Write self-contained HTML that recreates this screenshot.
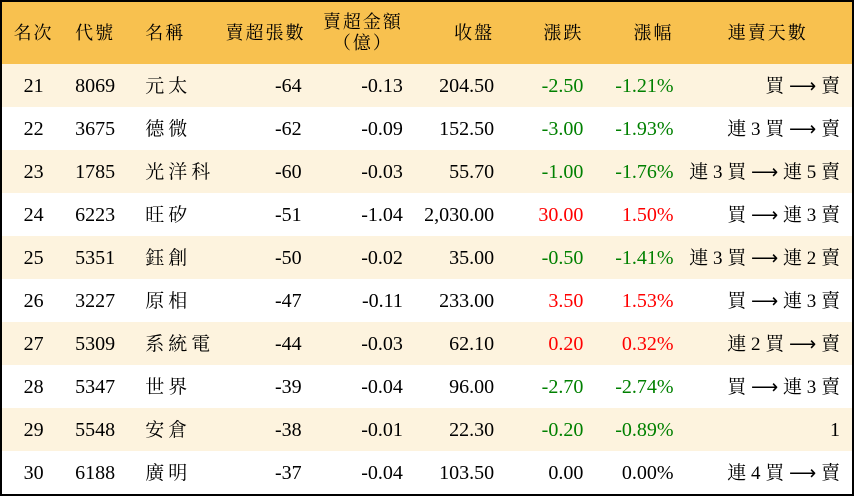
<!DOCTYPE html>
<html><head><meta charset="utf-8"><style>
body{margin:0;background:#fff;}
table{border-collapse:collapse;border:2px solid #000;width:854px;table-layout:fixed;font-family:"Liberation Serif","Noto Serif CJK SC",serif;font-size:20px;color:#000;}
td,th{padding:0;white-space:nowrap;}
th{background:#f8c14f;height:62px;font-weight:normal;letter-spacing:2px;line-height:21px;font-size:18px;}
tr.r td{height:43px;line-height:22px;}
tr.o td{background:#fdf3de;}
.c{text-align:center}.l{text-align:left;padding-left:10px}.rt{text-align:right;padding-right:10px}
.z span{letter-spacing:4px;font-size:19px;position:relative;top:1px}
.s{padding-right:12px}
.s span{font-size:19px;position:relative;top:1px}
.g{color:#008000}.d{color:#f00}
</style></head><body>
<table>
<colgroup><col style="width:64px"><col style="width:70px"><col style="width:90px"><col style="width:86px"><col style="width:101px"><col style="width:91px"><col style="width:89px"><col style="width:90px"><col style="width:169px"></colgroup>
<tr><th class="c">名次</th><th class="l">代號</th><th class="l">名稱</th><th class="rt">賣超張數</th><th class="rt">賣超金額<br><span style="padding-right:10px">（億）</span></th><th class="rt">收盤</th><th class="rt">漲跌</th><th class="rt">漲幅</th><th class="c">連賣天數</th></tr>
<tr class="r o"><td class="c">21</td><td class="l">8069</td><td class="l z"><span>元太</span></td><td class="rt">-64</td><td class="rt">-0.13</td><td class="rt">204.50</td><td class="rt g">-2.50</td><td class="rt g">-1.21%</td><td class="rt s"><span>買 ⟶ 賣</span></td></tr>
<tr class="r"><td class="c">22</td><td class="l">3675</td><td class="l z"><span>德微</span></td><td class="rt">-62</td><td class="rt">-0.09</td><td class="rt">152.50</td><td class="rt g">-3.00</td><td class="rt g">-1.93%</td><td class="rt s"><span>連 3 買 ⟶ 賣</span></td></tr>
<tr class="r o"><td class="c">23</td><td class="l">1785</td><td class="l z"><span>光洋科</span></td><td class="rt">-60</td><td class="rt">-0.03</td><td class="rt">55.70</td><td class="rt g">-1.00</td><td class="rt g">-1.76%</td><td class="rt s"><span>連 3 買 ⟶ 連 5 賣</span></td></tr>
<tr class="r"><td class="c">24</td><td class="l">6223</td><td class="l z"><span>旺矽</span></td><td class="rt">-51</td><td class="rt">-1.04</td><td class="rt">2,030.00</td><td class="rt d">30.00</td><td class="rt d">1.50%</td><td class="rt s"><span>買 ⟶ 連 3 賣</span></td></tr>
<tr class="r o"><td class="c">25</td><td class="l">5351</td><td class="l z"><span>鈺創</span></td><td class="rt">-50</td><td class="rt">-0.02</td><td class="rt">35.00</td><td class="rt g">-0.50</td><td class="rt g">-1.41%</td><td class="rt s"><span>連 3 買 ⟶ 連 2 賣</span></td></tr>
<tr class="r"><td class="c">26</td><td class="l">3227</td><td class="l z"><span>原相</span></td><td class="rt">-47</td><td class="rt">-0.11</td><td class="rt">233.00</td><td class="rt d">3.50</td><td class="rt d">1.53%</td><td class="rt s"><span>買 ⟶ 連 3 賣</span></td></tr>
<tr class="r o"><td class="c">27</td><td class="l">5309</td><td class="l z"><span>系統電</span></td><td class="rt">-44</td><td class="rt">-0.03</td><td class="rt">62.10</td><td class="rt d">0.20</td><td class="rt d">0.32%</td><td class="rt s"><span>連 2 買 ⟶ 賣</span></td></tr>
<tr class="r"><td class="c">28</td><td class="l">5347</td><td class="l z"><span>世界</span></td><td class="rt">-39</td><td class="rt">-0.04</td><td class="rt">96.00</td><td class="rt g">-2.70</td><td class="rt g">-2.74%</td><td class="rt s"><span>買 ⟶ 連 3 賣</span></td></tr>
<tr class="r o"><td class="c">29</td><td class="l">5548</td><td class="l z"><span>安倉</span></td><td class="rt">-38</td><td class="rt">-0.01</td><td class="rt">22.30</td><td class="rt g">-0.20</td><td class="rt g">-0.89%</td><td class="rt" style="padding-right:12px">1</td></tr>
<tr class="r"><td class="c">30</td><td class="l">6188</td><td class="l z"><span>廣明</span></td><td class="rt">-37</td><td class="rt">-0.04</td><td class="rt">103.50</td><td class="rt">0.00</td><td class="rt">0.00%</td><td class="rt s"><span>連 4 買 ⟶ 賣</span></td></tr>
</table>
</body></html>
